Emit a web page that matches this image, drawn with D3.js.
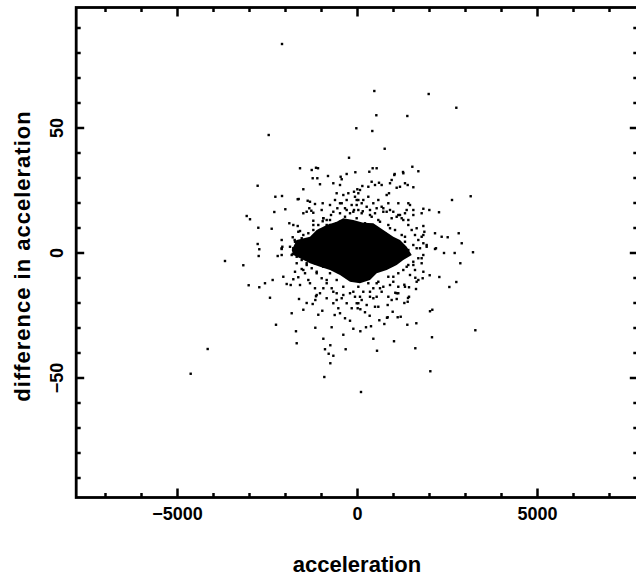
<!DOCTYPE html>
<html>
<head>
<meta charset="utf-8">
<script src="https://cdn.jsdelivr.net/npm/d3@7"></script>
<style>
  body { margin: 0; background: #fff; }
  text { font-family: "Liberation Sans", Arial, sans-serif; font-weight: bold; fill: #000; }
</style>
</head>
<body>
<svg id="chart" width="636" height="578"></svg>
<script>
// axis settings
var xDomain = [-7800, 7800],
    yDomain = [-98, 98];
var xMajorTicks = [-5000, 0, 5000],
    xMinorTicks = [-7000, -6000, -4000, -3000, -2000, -1000, 1000, 2000, 3000, 4000, 6000, 7000],
    yMajorTicks = [-50, 0, 50],
    yMinorTicks = [-90, -80, -70, -60, -40, -30, -20, -10, 10, 20, 30, 40, 60, 70, 80, 90];
var xLabels = ["\u22125000", "0", "5000"],
    yLabels = ["\u221250", "0", "50"];
var xTitle = "acceleration",
    yTitle = "difference in acceleration";

// outline of the solid black core (acceleration, difference)
var coreAccel = [-1814, -1675, -1306, -1120, -842, -564, -381, -103, 175, 453, 731, 1008, 1195, 1381, 1520,
                 1286, 1103, 825, 547, 361, 83, -194, -472, -750, -1028, -1306, -1583, -1770],
    coreDiff  = [1.0, 5.0, 6.3, 9.0, 11.0, 12.3, 13.7, 13.0, 11.9, 11.7, 9.0, 6.3, 5.0, 2.3, -1.0,
                 -3.0, -5.0, -7.0, -8.3, -11.0, -12.3, -11.7, -9.0, -7.0, -5.7, -4.3, -2.3, -1.0];

// individual points outside the core: [acceleration, difference]
var samples = [
  // far out
  [-2083,83.4],[-2453,47],[-1583,33.7],[-1258,33],[-1139,33.9],[-2760,26.7],[-1491,25.3],[-2268,22.3],[-2083,22.6],[-1647,21.3],
  [-2297,16.2],[-1991,17.3],[-3064,14.6],[-2972,13.3],[-2741,9.9],[-2370,9.5],[-2759,3.4],[-2714,1.3],[-2731,-1.4],[-2203,-1.4],
  [-3667,-3.4],[-3158,-5.1],[-3009,-13.1],[-2714,-13.9],[-2556,-12.3],[-2343,-11],[-2047,-9.7],[-1953,-12.6],[-1842,-13],[-1769,-10.7],
  [481,64.6],[1991,63.4],[2759,57.9],[537,54.9],[1398,54.6],[-19,49.7],[425,48.6],[769,41.5],[-222,37.9],[3158,22.5],
  [2639,21],[3222,0.1],[2870,-4.3],[2825,7.7],[2909,3.7],[2519,6.1],[2417,-0.2],[2713,-0.2],[2194,1.7],[2287,-9.8],
  [2019,-9.1],[2565,-13.8],[2759,-11.8],[2278,16.1],[2009,17],[1843,17.5],[1537,34.3],[1704,32.5],[1278,32.2],[1046,31.4],
  [342,32.3],[435,33.7],[546,33.7],[-46,32.1],[-806,30.6],[-454,30.3],[-287,31.4],[-1083,33.7],
  [-4148,-38.6],[-4620,-48.5],[-2417,-18.1],[-2250,-28.9],[-1695,-31.5],[-1675,-36.3],[-1814,-24.3],[-1611,-18.6],[-1491,-22.9],[-1398,-20.2],
  [-1231,-20.6],[-1139,-17.5],[-1158,-30.1],[-1075,-24.9],
  [3287,-31.1],[2037,-47.5],[111,-55.8],[-908,-49.8],[-741,-44.3],[-787,-40.5],[-657,-41.3],[-741,-37.1],[-889,-38.7],[-935,-34.5],
  [-315,-38.7],[556,-39.3],[1028,-35.5],[1620,-38.3],[2083,-33.9],[-704,-29.9],[-380,-32.9],[-102,-30.5],[93,-31.5],[250,-29.9],
  [389,-29.5],[454,-34.5],[759,-28.6],[1398,-28.9],[1648,-28.3],[2028,-23.5],[2092,-22.9],[1315,-20.2],[1417,-18.2],[1445,-17.7],
  [1130,-25.9],[620,-27.1],[852,-25.9],
  // middle ring
  [-1631,-9.9],[-1158,-19],[-964,-23.3],[-620,-25],[-472,-24.3],[-333,-26.3],[-194,-27.3],[-1675,-4.3],[-1536,-6.6],[-1786,-0.6],
  [1620,-10.1],[1704,-11],[1824,-10.3],[1639,-14.6],[1445,-13.9],[1315,-12.9],[1408,-19.7],[1103,-18.6],[93,-22.7],[352,-25.3],
  [833,-26.1],[1214,-25.7],[37,-20.3],[222,-23.9],[592,-21.7],[852,-21],[991,-23.7],[1064,-16.1],[1147,-13.7],[546,-17.7],
  [685,-15.7],[870,-17.7],
  [-1231,29.7],[-1102,29.7],[-1028,27.3],[-1620,21.4],[-1370,20.7],[-1306,20.3],[-1167,19.4],[-953,19.7],[-1491,15.7],[-1325,17.7],
  [-1269,16.7],[-1214,15.9],[-1880,11.7],[-1647,10.6],[-1583,8.6],[-1214,12.7],[-2092,5],[-2092,1.4],[-1786,6.1],[-1731,5],
  [-658,27.7],[-472,27],[-425,29.3],[-565,23.7],[-380,23],[-241,23.7],[-83,24.3],[9,25.3],[-750,19],[-611,21],
  [-472,19.7],[-333,17.7],[-148,19],[-9,21],[-953,12.5],[-842,11],[-750,13],[-565,11.7],[-1417,4.7],[-1214,2.3],
  [-1491,2.3],[-2092,-1],[-2074,2.3],
  [1036,31],[963,29],[917,27.7],[1287,31.7],[1333,27.7],[1408,27],[1565,26.1],[611,27.9],[685,27],[500,27],
  [1102,25.9],[1194,26.3],[83,25],[148,26.6],[315,26.3],[407,28.3],[824,23],[889,23.7],[1148,19.7],[1426,19.7],
  [1472,19],[1565,17],[1333,15.7],[1241,13.7],[1426,13],[1843,10.6],[1871,8.3],[1796,6.3],[2167,7.7],[2352,6.3],
  [1843,3.7],[1935,2.3],[2167,1.4],[824,16.3],[963,13.7],[1102,14.3],[685,18.3],[500,15.7],[130,19.7],[269,18.3],
  [37,17],[361,17],
  // fringe of the core
  [-1398,16.3],[-981,17],[-935,13.7],[-658,16.3],[-472,15.7],[-287,17],[-102,16.3],[-9,13.7],[160,16.5],[361,15],
  [546,17.7],[731,16.3],[917,17],[1194,15],[1380,17],[1565,15],[1796,15.7],[-1769,11],[-1630,8.3],[-1722,4.3],
  [-1814,-1],[-1491,-7],[-1722,-7.7],[-1352,-11],[-1583,-13],[1657,9.7],[1843,7],[1935,3],[1657,1.7],[1796,-2.3],
  [1565,-5],[1843,-7.7],[1472,-9],[1657,-11.7],[-935,-14.3],[-658,-15.7],[-380,-17],[-102,-15.7],[83,-17.7],[361,-15.7],
  [639,-14.3],[917,-13],[1102,-16.3],[454,-18.3],[-565,-19],[-1120,-17],
  [-1213,11],[-1491,7],[-1305,1.7],[-1398,-4.3],[-1120,-7.7],[-842,-11],[546,-12.3],[1009,-9.7],[1380,-5.7],[1333,6.3],
  [917,9.7],[592,13],[-842,13],[-1028,9],
  // upper left of core
  [-750,11],[-658,10.3],[-472,12.3],[-333,14.3],[-194,15.7],[-83,17],[-9,19],[37,21],[-56,22.3],[-287,21],
  [-425,19.7],[-546,17.7],[-722,15],[-889,9],[-1028,7],[-1167,5.7],[-1306,3.7],[-1444,2.3],[-1583,1],[-1770,1.7],
  [-1861,2.3],[-2092,1.7],[-1675,4.3],[-1536,5.7],[-1352,7.7],[-1213,9],[-1075,11],[-935,13.7],
  // upper right of core
  [37,23.7],[175,21],[314,22.3],[453,19.7],[592,21],[731,17.7],[870,19.7],[1008,16.3],[1147,15],[1286,13],
  [1425,11],[1519,9],[1611,7],[1703,5],[1564,3],[1750,1.7],[1425,1],[130,15.7],[408,14.3],[639,12.3],
  [870,11],[1056,9],[1242,7],[1333,4.3],[222,11.7],[500,9.7],[778,7.7],
  // lower left of core
  [-1675,-1.7],[-1536,-3],[-1397,-5],[-1258,-6.3],[-1120,-8.3],[-981,-10.3],[-842,-12.3],[-703,-14.3],[-564,-16.3],[-425,-18.3],
  [-286,-20.3],[-147,-22.3],[-8,-20.3],[-1444,-8.3],[-1306,-12.3],[-1167,-14.3],[-1028,-16.3],[-842,-18.3],[-658,-20.3],[-519,-22.3],
  [-1167,-4.3],[-936,-5.7],[-750,-8.3],[-564,-11],[-381,-13.7],[-194,-16.3],[-56,-17.7],
  // lower right of core
  [37,-13.7],[175,-15.7],[314,-12.3],[453,-14.3],[592,-11.7],[731,-13.7],[870,-9.7],[1008,-11.7],[1147,-8.3],[1286,-7],
  [1425,-5],[1564,-3.7],[1703,-2.3],[1842,-1],[1611,-7],[1796,-4.3],[130,-19],[361,-17.7],[269,-21],[500,-21.7],
  [963,-19],[1147,-16.3],[1333,-13.7],[19,-22.3]
];

var svg = d3.select("#chart");

var x = d3.scaleLinear().domain(xDomain).range([76.2, 637.8]),
    y = d3.scaleLinear().domain(yDomain).range([497.5, 7.5]);

var tickWidth = 2.5;

function styleAxis(g){
  g.select(".domain").remove();
  g.selectAll("line").attr("stroke", "#000").attr("stroke-width", tickWidth);
}

// bottom: minor then major with labels
svg.append("g").attr("transform", "translate(0," + y.range()[0] + ")")
  .call(d3.axisBottom(x).tickValues(xMinorTicks).tickSize(-4.5).tickFormat(""))
  .call(styleAxis);
svg.append("g").attr("transform", "translate(0," + y.range()[0] + ")")
  .call(d3.axisBottom(x).tickValues(xMajorTicks).tickSize(-9).tickPadding(10)
        .tickFormat(function(d, i){ return xLabels[i]; }))
  .call(styleAxis)
  .selectAll("text").attr("font-size", 18).style("font-family", null);

// top (no labels)
svg.append("g").attr("transform", "translate(0," + y.range()[1] + ")")
  .call(d3.axisTop(x).tickValues(xMinorTicks).tickSize(-4.5).tickFormat(""))
  .call(styleAxis);
svg.append("g").attr("transform", "translate(0," + y.range()[1] + ")")
  .call(d3.axisTop(x).tickValues(xMajorTicks).tickSize(-9).tickFormat(""))
  .call(styleAxis);

// left, labels rotated
svg.append("g").attr("transform", "translate(" + x.range()[0] + ",0)")
  .call(d3.axisLeft(y).tickValues(yMinorTicks).tickSize(-4.5).tickFormat(""))
  .call(styleAxis);
svg.append("g").attr("transform", "translate(" + x.range()[0] + ",0)")
  .call(d3.axisLeft(y).tickValues(yMajorTicks).tickSize(-8)
        .tickFormat(function(d, i){ return yLabels[i]; }))
  .call(styleAxis)
  .selectAll("text")
    .attr("font-size", 18)
    .attr("transform", "rotate(-90)")
    .attr("x", 0)
    .attr("y", -13)
    .attr("dy", 0)
    .attr("text-anchor", "middle");

// right (no labels)
svg.append("g").attr("transform", "translate(" + x.range()[1] + ",0)")
  .call(d3.axisRight(y).tickValues(yMinorTicks).tickSize(-4.5).tickFormat(""))
  .call(styleAxis);
svg.append("g").attr("transform", "translate(" + x.range()[1] + ",0)")
  .call(d3.axisRight(y).tickValues(yMajorTicks).tickSize(-8).tickFormat(""))
  .call(styleAxis);

// frame
svg.append("rect")
  .attr("x", x.range()[0]).attr("y", y.range()[1])
  .attr("width", x.range()[1] - x.range()[0])
  .attr("height", y.range()[0] - y.range()[1])
  .attr("fill", "none").attr("stroke", "#000").attr("stroke-width", 2.8);

// dense core
var core = coreAccel.map(function(d, i){ return [d, coreDiff[i]]; });
svg.append("path")
  .datum(core)
  .attr("d", d3.line().x(function(d){ return x(d[0]); }).y(function(d){ return y(d[1]); }).curve(d3.curveLinearClosed))
  .attr("fill", "#000");

// points
svg.append("g").selectAll("rect.pt")
  .data(samples).enter()
  .append("rect")
    .attr("class", "pt")
    .attr("x", function(d){ return x(d[0]) - 1.2; })
    .attr("y", function(d){ return y(d[1]) - 1.2; })
    .attr("width", 2.4).attr("height", 2.4)
    .attr("fill", "#000");

// titles
svg.append("text")
  .attr("x", x(0)).attr("y", 572)
  .attr("text-anchor", "middle")
  .attr("font-size", 22)
  .text(xTitle);

svg.append("text")
  .attr("transform", "translate(30,256) rotate(-90)")
  .attr("text-anchor", "middle")
  .attr("font-size", 22)
  .style("letter-spacing", "1px")
  .text(yTitle);
</script>
</body>
</html>
